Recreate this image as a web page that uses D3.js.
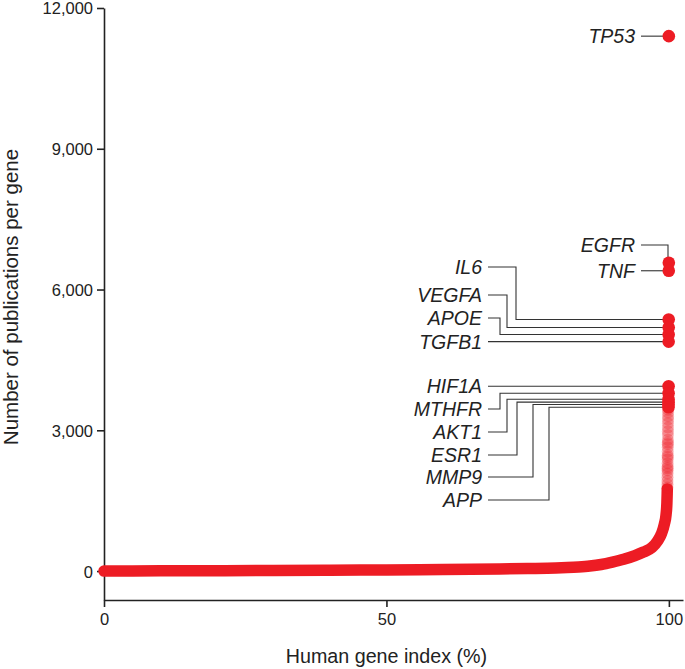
<html>
<head>
	<script src="https://cdn.jsdelivr.net/npm/d3@7/dist/d3.min.js"></script>
	<style>
		body { margin: 0; background: #fff; }
		text { font-family: Helvetica, "Liberation Sans", Arial, sans-serif; fill: #222; }
	</style>
</head>
<body>
	<script type="text/javascript">

		// sorted publication counts along the gene index
		var curvePct   = [0, 10, 20, 30, 40, 50, 60, 70, 75, 80, 82, 84, 86, 88, 90, 92, 94, 95.5, 97, 98, 98.7, 99.2, 99.5, 99.65, 99.7, 99.72];
		var curveCount = [0, 4, 8, 12, 17, 24, 33, 45, 53, 64, 74, 88, 108, 140, 190, 250, 330, 405, 500, 640, 800, 1000, 1200, 1450, 1650, 1750];

		// the sparse, semi-transparent genes above the curve
		var fadedPct   = [99.74, 99.75, 99.75, 99.76, 99.76, 99.77, 99.77, 99.78, 99.78, 99.79, 99.79, 99.8, 99.8, 99.81, 99.81, 99.82, 99.82, 99.83, 99.83, 99.84, 99.84, 99.85, 99.85, 99.86, 99.86];
		var fadedCount = [1780, 1850, 1920, 2000, 2080, 2150, 2190, 2230, 2300, 2380, 2430, 2470, 2550, 2640, 2700, 2740, 2800, 2900, 2980, 3060, 3150, 3230, 3300, 3380, 3440];

		// named genes
		var geneNames  = ["TP53", "EGFR", "TNF", "IL6", "VEGFA", "APOE", "TGFB1", "HIF1A", "MTHFR", "AKT1", "ESR1", "MMP9", "APP"];
		var genePct    = [99.99, 99.99, 99.98, 99.97, 99.97, 99.96, 99.96, 99.95, 99.95, 99.94, 99.94, 99.93, 99.93];
		var geneCount  = [11400, 6570, 6400, 5360, 5190, 5040, 4890, 3940, 3790, 3660, 3600, 3550, 3490];

		var yTicks = [0, 3000, 6000, 9000, 12000];
		var xTicks = [0, 50, 100];

		// label layout (pixels): label centre y, right edge and elbow x of the leader
		var labelLayout = {
			TP53:  { y: null, right: 635, elbow: null },
			EGFR:  { y: 245,  right: 635, elbow: 668 },
			TNF:   { y: null, right: 635, elbow: null },
			IL6:   { y: 267,  right: 482, elbow: 516 },
			VEGFA: { y: 295,  right: 482, elbow: 507 },
			APOE:  { y: 318,  right: 482, elbow: 500 },
			TGFB1: { y: null, right: 482, elbow: null },
			HIF1A: { y: null, right: 482, elbow: null },
			MTHFR: { y: 409,  right: 482, elbow: 500 },
			AKT1:  { y: 432,  right: 482, elbow: 507 },
			ESR1:  { y: 455,  right: 482, elbow: 517 },
			MMP9:  { y: 477,  right: 482, elbow: 533 },
			APP:   { y: 500,  right: 482, elbow: 549 }
		};

		var width = 685, height = 669;
		var red = "#ed1c24";

		var svg = d3.select("body").append("svg")
			.attr("width", width)
			.attr("height", height);

		var x = d3.scaleLinear().domain([0, 102.5]).range([104, 683]);
		var y = d3.scaleLinear().domain([-617, 12000]).range([600, 8]);

		// axes
		var yAxis = d3.axisLeft(y).tickValues(yTicks).tickSize(7).tickSizeOuter(0).tickPadding(4)
			.tickFormat(d3.format(","));
		var xAxis = d3.axisBottom(x).tickValues(xTicks).tickSize(7).tickSizeOuter(0).tickPadding(6);

		var gy = svg.append("g").attr("transform", "translate(104,0)").call(yAxis);
		var gx = svg.append("g").attr("transform", "translate(0,600)").call(xAxis);

		[gx, gy].forEach(function (g) {
			g.select(".domain").attr("stroke", "#222").attr("stroke-width", 1.6);
			g.selectAll(".tick line").attr("stroke", "#222").attr("stroke-width", 1.6);
			g.selectAll(".tick text")
				.style("font-family", "Helvetica, 'Liberation Sans', Arial, sans-serif")
				.style("font-size", "16.5px")
				.attr("fill", "#222");
		});
		gy.selectAll(".tick text").attr("dy", "0.36em");

		svg.append("text")
			.attr("x", (x(0) + x(100)) / 2)
			.attr("y", 663)
			.attr("text-anchor", "middle")
			.style("font-size", "19.7px")
			.text("Human gene index (%)");

		svg.append("text")
			.attr("transform", "translate(18,297) rotate(-90)")
			.attr("text-anchor", "middle")
			.style("font-size", "20.5px")
			.text("Number of publications per gene");

		// leader lines
		var leaders = svg.append("g");
		geneNames.forEach(function (name, i) {
			var lay = labelLayout[name];
			var py = y(geneCount[i]), px = x(genePct[i]);
			var ly = lay.y === null ? py : lay.y;
			var path = d3.path();
			path.moveTo(lay.right + 6, ly);
			if (lay.elbow !== null) {
				path.lineTo(lay.elbow, ly);
				path.lineTo(lay.elbow, py);
			}
			path.lineTo(px, py);
			leaders.append("path")
				.attr("d", path.toString())
				.attr("fill", "none")
				.attr("stroke", "#333")
				.attr("stroke-width", 1.1);
		});

		// the main curve
		var curve = curvePct.map(function (p, i) { return [p, curveCount[i]]; });
		svg.append("path")
			.datum(curve)
			.attr("d", d3.line()
				.x(function (d) { return x(d[0]); })
				.y(function (d) { return y(d[1]); })
				.curve(d3.curveMonotoneX))
			.attr("fill", "none")
			.attr("stroke", red)
			.attr("stroke-width", 11.5)
			.attr("stroke-linecap", "round")
			.attr("stroke-linejoin", "round");

		svg.append("g").selectAll("circle")
			.data(fadedPct)
			.enter()
			.append("circle")
			.attr("cx", function (d) { return x(d); })
			.attr("cy", function (d, i) { return y(fadedCount[i]); })
			.attr("r", 6)
			.attr("fill", red)
			.attr("fill-opacity", 0.3);

		svg.append("g").selectAll("circle")
			.data(geneCount)
			.enter()
			.append("circle")
			.attr("cx", function (d, i) { return x(genePct[i]); })
			.attr("cy", function (d) { return y(d); })
			.attr("r", 6.3)
			.attr("fill", red);

		// labels
		svg.append("g").selectAll("text")
			.data(geneNames)
			.enter()
			.append("text")
			.attr("x", function (d) { return labelLayout[d].right; })
			.attr("y", function (d, i) {
				var lay = labelLayout[d];
				return lay.y === null ? y(geneCount[i]) : lay.y;
			})
			.attr("dy", "0.36em")
			.attr("text-anchor", "end")
			.style("font-size", "19.5px")
			.style("font-style", "italic")
			.text(function (d) { return d; });

	</script>
</body>
</html>
